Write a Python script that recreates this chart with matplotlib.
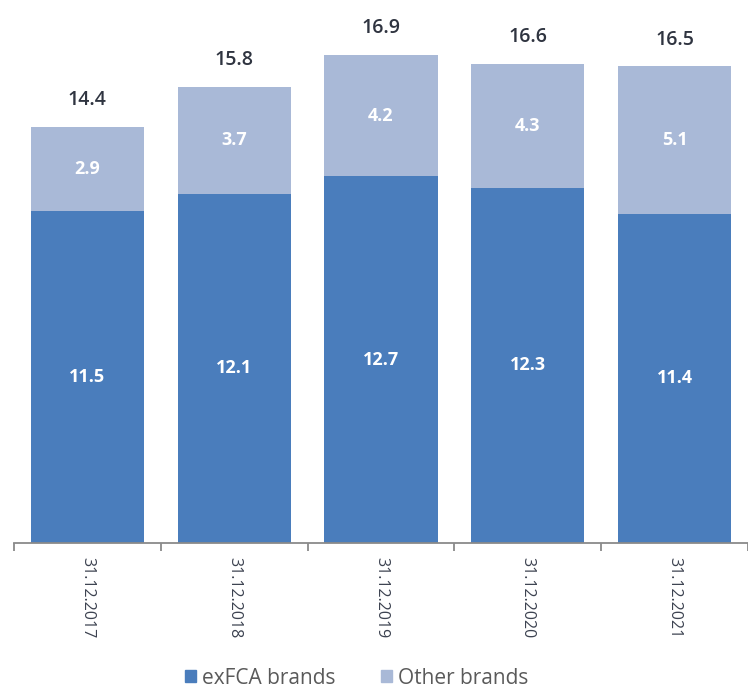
import matplotlib
matplotlib.use("Agg")
import matplotlib.pyplot as plt
from matplotlib.patches import Patch

categories = ["31.12.2017", "31.12.2018", "31.12.2019", "31.12.2020", "31.12.2021"]
exfca = [11.5, 12.1, 12.7, 12.3, 11.4]
other = [2.9, 3.7, 4.2, 4.3, 5.1]
totals = [14.4, 15.8, 16.9, 16.6, 16.5]
series_names = ["exFCA brands", "Other brands"]

dark = "#4a7dbc"
light = "#a9b9d7"

plt.rcParams["font.family"] = ["Open Sans", "DejaVu Sans"]

fig = plt.figure(figsize=(7.48, 6.93), dpi=100)
ax = fig.add_axes([14 / 748, (693 - 543) / 693, 1 - 14 / 748, 543 / 693])

x = list(range(len(categories)))
w = 0.77
ax.bar(x, exfca, width=w, color=dark)
ax.bar(x, other, width=w, bottom=exfca, color=light)

for xi, e, o, t in zip(x, exfca, other, totals):
    ax.text(xi, e / 2, f"{e:.1f}", ha="center", va="center", color="white",
            fontsize=13, fontweight="bold")
    ax.text(xi, e + o / 2, f"{o:.1f}", ha="center", va="center", color="white",
            fontsize=13, fontweight="bold")
    ax.annotate(f"{t:.1f}", (xi, e + o), xytext=(0, 12), textcoords="offset points",
                ha="center", va="bottom", color="#2f3440", fontsize=14,
                fontweight="semibold")

ax.set_xlim(-0.5, 4.5)
ax.set_ylim(0, 18.8)

for side in ("top", "right", "left"):
    ax.spines[side].set_visible(False)
ax.spines["bottom"].set_color("#8a8a8a")
ax.spines["bottom"].set_linewidth(1.3)
ax.set_yticks([])

ax.set_xticks(x)
ax.set_xticklabels(categories, rotation=-90, fontsize=11.5, color="#3c4250")
ax.tick_params(axis="x", which="major", length=0, pad=10)
ax.set_xticks([i - 0.5 for i in range(len(categories) + 1)], minor=True)
ax.tick_params(axis="x", which="minor", length=6, width=1.3, color="#8a8a8a")

handles = [Patch(color=dark), Patch(color=light)]
fig.legend(handles, series_names, loc="center", bbox_to_anchor=(357 / 748, 1 - 678 / 693),
           ncol=2, frameon=False, fontsize=15, labelcolor="#5a5a5a",
           handlelength=0.5, handleheight=0.5, handletextpad=0.3, columnspacing=2.2)

fig.savefig("out.png", dpi=100)
